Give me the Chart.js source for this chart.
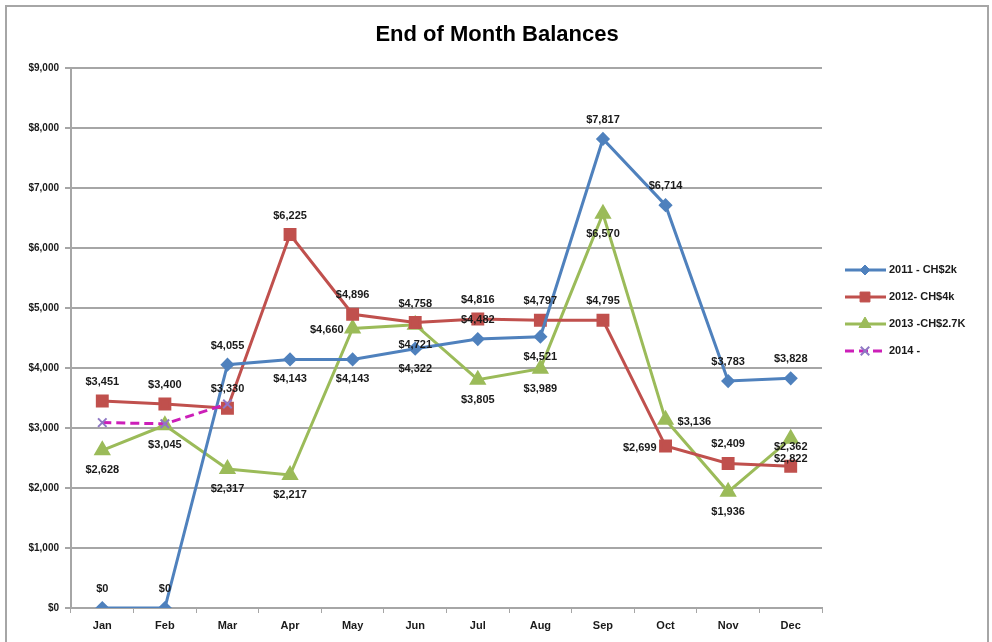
<!DOCTYPE html>
<html>
<head>
<meta charset="utf-8">
<script src="https://cdn.jsdelivr.net/npm/chart.js@4"></script>
<style>
  html, body { margin: 0; padding: 0; background: #fff; }
  #wrap { position: relative; width: 992px; height: 642px; }
</style>
</head>
<body>
<div id="wrap"><canvas id="balChart" width="992" height="642"></canvas></div>
<script>
// ─── DATA ────────────────────────────────────────────────────────
const months  = ['Jan', 'Feb', 'Mar', 'Apr', 'May', 'Jun', 'Jul', 'Aug', 'Sep', 'Oct', 'Nov', 'Dec'];
const bal2011 = [0, 0, 4055, 4143, 4143, 4322, 4482, 4521, 7817, 6714, 3783, 3828];
const bal2012 = [3451, 3400, 3330, 6225, 4896, 4758, 4816, 4797, 4795, 2699, 2409, 2362];
const bal2013 = [2628, 3045, 2317, 2217, 4660, 4721, 3805, 3989, 6570, 3136, 1936, 2822];
const bal2014 = [3090, 3070, 3400, null, null, null, null, null, null, null, null, null];
const seriesNames = ['2011 - CH$2k', '2012- CH$4k', '2013 -CH$2.7K', '2014 -'];
const yTicks = [0, 1000, 2000, 3000, 4000, 5000, 6000, 7000, 8000, 9000];

// where each value label sits relative to its point (a=above b=below l=left r=right)
const labelSide = [
  ['a', 'a', 'a', 'b', 'b', 'b', 'a', 'b', 'a', 'a', 'a', 'a'],
  ['a', 'a', 'a', 'a', 'a', 'a', 'a', 'a', 'a', 'l', 'a', 'a'],
  ['b', 'b', 'b', 'b', 'l', 'b', 'b', 'b', 'b', 'r', 'b', 'b'],
];

const FONT = "'Liberation Sans', Arial, sans-serif";
const money = v => '$' + v.toLocaleString('en-US');

// ─── PLUGINS ─────────────────────────────────────────────────────
// Outer frame + title
const framePlugin = {
  id: 'frame',
  beforeDraw(chart) {
    const c = chart.ctx;
    c.save();
    c.fillStyle = '#fff';
    c.fillRect(0, 0, chart.width, chart.height);
    c.strokeStyle = '#a6a6a6';
    c.lineWidth = 2;
    c.strokeRect(6, 6, 982, 650);
    c.restore();
  },
  afterDraw(chart) {
    const c = chart.ctx;
    c.save();
    c.fillStyle = '#000';
    c.font = 'bold 22px ' + FONT;
    c.textAlign = 'center';
    c.textBaseline = 'middle';
    c.fillText('End of Month Balances', 497, 35);
    c.restore();
  },
};

// Value labels next to each point
const valueLabels = {
  id: 'valueLabels',
  afterDatasetsDraw(chart) {
    const c = chart.ctx;
    c.save();
    c.font = 'bold 11px ' + FONT;
    c.fillStyle = '#1a1a1a';
    chart.data.datasets.forEach((ds, di) => {
      if (!labelSide[di]) return;
      chart.getDatasetMeta(di).data.forEach((pt, i) => {
        const v = ds.data[i];
        if (v == null) return;
        const side = labelSide[di][i];
        let x = pt.x, y = pt.y;
        c.textBaseline = 'middle';
        c.textAlign = 'center';
        if (side === 'a') y -= 19;
        if (side === 'b') y += 20;
        if (side === 'l') { c.textAlign = 'right'; x -= 9; y += 2; }
        if (side === 'r') { c.textAlign = 'left'; x += 12; y += 2; }
        c.fillText(money(v), x, y);
      });
    });
    c.restore();
  },
};

// Right-hand legend with line + marker samples
const sideLegend = {
  id: 'sideLegend',
  afterDraw(chart) {
    const c = chart.ctx;
    c.save();
    chart.data.datasets.forEach((ds, i) => {
      const y = 270 + i * 27;
      c.strokeStyle = ds.borderColor;
      c.lineWidth = 3;
      c.setLineDash(ds.borderDash || []);
      c.beginPath();
      c.moveTo(845, y);
      c.lineTo(886, y);
      c.stroke();
      c.setLineDash([]);
      c.fillStyle = ds.pointBackgroundColor;
      c.strokeStyle = ds.pointBorderColor;
      c.lineWidth = ds.pointBorderWidth || 1;
      Chart.helpers.drawPoint(c, {
        pointStyle: ds.pointStyle,
        radius: ds.pointRadius,
        rotation: 0,
        borderWidth: ds.pointBorderWidth || 1,
      }, 865, y);
      c.fillStyle = '#1a1a1a';
      c.font = 'bold 11px ' + FONT;
      c.textAlign = 'left';
      c.textBaseline = 'middle';
      c.fillText(ds.label, 889, y);
    });
    c.restore();
  },
};

// ─── CHART ───────────────────────────────────────────────────────
const lineStyle = (label, data, color, shape, radius) => ({
  label,
  data,
  borderColor: color,
  backgroundColor: color,
  pointBackgroundColor: color,
  pointBorderColor: color,
  pointStyle: shape,
  pointRadius: radius,
  pointHoverRadius: radius,
  borderWidth: 3,
  tension: 0,
});

const ds2014 = lineStyle(seriesNames[3], bal2014, '#cc1fb8', 'crossRot', 6);
ds2014.borderDash = [9, 5];
ds2014.pointBorderColor = '#8f78c4';
ds2014.pointBackgroundColor = '#8f78c4';
ds2014.pointBorderWidth = 2;
ds2014.spanGaps = false;
ds2014.order = -1; // draw on top so the Mar cross shows over the red square

new Chart(document.getElementById('balChart'), {
  type: 'line',
  data: {
    labels: months,
    datasets: [
      lineStyle(seriesNames[0], bal2011, '#4f81bd', 'rectRot', 5),
      lineStyle(seriesNames[1], bal2012, '#c0504d', 'rect', 7),
      lineStyle(seriesNames[2], bal2013, '#9bbb59', 'triangle', 7),
      ds2014,
    ],
  },
  options: {
    responsive: false,
    animation: false,
    layout: { padding: { top: 68, right: 170, bottom: 0, left: 0 } },
    plugins: {
      legend: { display: false },
      title: { display: false },
      tooltip: { enabled: false },
    },
    scales: {
      x: {
        offset: true,
        grid: { offset: true, drawOnChartArea: false, color: '#a6a6a6', tickLength: 5, lineWidth: 1 },
        border: { color: '#a6a6a6', width: 2 },
        ticks: { color: '#1a1a1a', font: { family: FONT, size: 11, weight: 'bold' }, padding: 6 },
        afterFit(s) { s.height = 34; },
      },
      y: {
        min: 0,
        max: 9000,
        afterBuildTicks(s) { s.ticks = yTicks.map(v => ({ value: v })); },
        grid: { color: '#a6a6a6', lineWidth: 2, tickLength: 6 },
        border: { color: '#a6a6a6', width: 2 },
        ticks: {
          color: '#1a1a1a',
          font: { family: FONT, size: 10, weight: 'bold' },
          padding: 6,
          callback: v => money(v),
        },
        afterFit(s) { s.width = 71; },
      },
    },
  },
  plugins: [framePlugin, valueLabels, sideLegend],
});
</script>
</body>
</html>
